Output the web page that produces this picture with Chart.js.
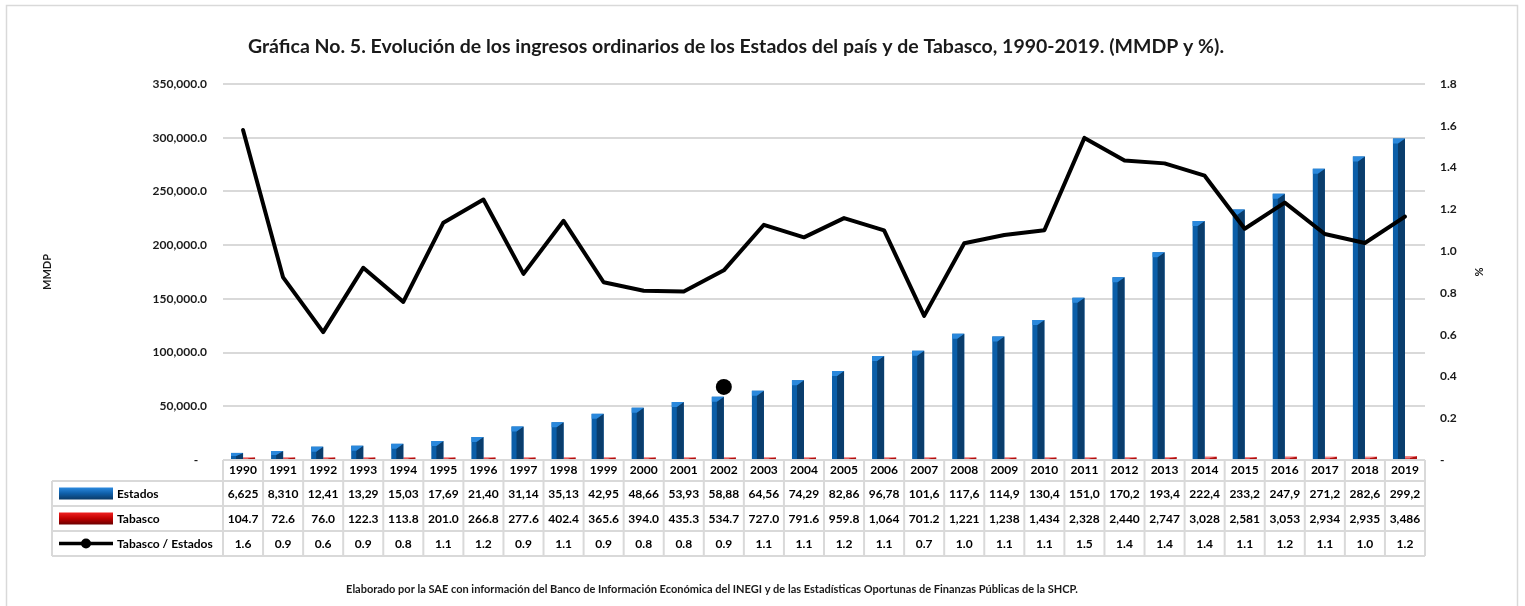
<!DOCTYPE html>
<html>
<head>
<meta charset="utf-8">
<script src="https://cdn.jsdelivr.net/npm/chart.js@4.4.1/dist/chart.umd.min.js"></script>
<style>
  body { margin: 0; background: #fff; }
  canvas { display: block; }
</style>
</head>
<body>
<canvas id="chart" width="1525" height="606"></canvas>
<script>
// -------- Datos --------
const YEARS = ["1990","1991","1992","1993","1994","1995","1996","1997","1998","1999",
  "2000","2001","2002","2003","2004","2005","2006","2007","2008","2009",
  "2010","2011","2012","2013","2014","2015","2016","2017","2018","2019"];

// Ingresos ordinarios de los Estados (MMDP)
const ESTADOS = [6625, 8310, 12410, 13290, 15030, 17690, 21400, 31140, 35130, 42950,
  48660, 53930, 58880, 64560, 74290, 82860, 96780, 101600, 117600, 114900,
  130400, 151000, 170200, 193400, 222400, 233200, 247900, 271200, 282600, 299200];

// Ingresos ordinarios de Tabasco (MMDP)
const TABASCO = [104.7, 72.6, 76.0, 122.3, 113.8, 201.0, 266.8, 277.6, 402.4, 365.6,
  394.0, 435.3, 534.7, 727.0, 791.6, 959.8, 1064, 701.2, 1221, 1238,
  1434, 2328, 2440, 2747, 3028, 2581, 3053, 2934, 2935, 3486];

// Tabasco / Estados (%)
const RATIO = [1.58, 0.874, 0.612, 0.92, 0.757, 1.136, 1.247, 0.891, 1.145, 0.851,
  0.81, 0.807, 0.908, 1.126, 1.066, 1.158, 1.099, 0.69, 1.038, 1.077,
  1.10, 1.542, 1.434, 1.42, 1.361, 1.107, 1.232, 1.082, 1.039, 1.165];

// punto suelto que aparece en la gráfica original
const STRAY_POINT = [{ x: "2002", y: 0.35 }];

const LEFT_MAX = 350000, LEFT_STEP = 50000;
const RIGHT_MAX = 1.8, RIGHT_STEP = 0.2;

const TITLE = "Gráfica No. 5. Evolución de los ingresos ordinarios de los Estados del país y de Tabasco, 1990-2019. (MMDP y %).";
const FOOTER = "Elaborado por la SAE con información del Banco de Información Económica del INEGI y de las Estadísticas Oportunas de Finanzas Públicas de la SHCP.";

const FONT = "Lato, 'Open Sans', sans-serif";
const TXT = "#1a1a1a";
const GRID = "#d9d9d9";

// -------- Formatos --------
function fmtEstados(v) { return v.toLocaleString("en-US").slice(0, 5); }
function fmtTabasco(v) { return v >= 1000 ? Math.round(v).toLocaleString("en-US") : v.toFixed(1); }
function fmtRatio(v) { return v.toFixed(1); }

// -------- Plugins --------
// efecto 3D de las barras
const barShade = {
  id: "barShade",
  afterDatasetDraw(chart, args) {
    const ds = chart.data.datasets[args.index];
    if (!ds.shade) return;
    const ctx = chart.ctx;
    ctx.save();
    args.meta.data.forEach(bar => {
      const { x, y, base, width } = bar.getProps(["x", "y", "base", "width"], true);
      const l = x - width / 2, r = x + width / 2, h = base - y;
      const cap = Math.min(5, h * 0.5);
      const mid = l + width * 0.42;
      ctx.fillStyle = ds.shade.dark;
      ctx.beginPath();
      ctx.moveTo(mid, y + cap);
      ctx.lineTo(r, y);
      ctx.lineTo(r, base);
      ctx.lineTo(mid, base);
      ctx.closePath();
      ctx.fill();
      ctx.fillStyle = ds.shade.light;
      ctx.beginPath();
      ctx.moveTo(l, y);
      ctx.lineTo(r, y);
      ctx.lineTo(mid, y + cap);
      ctx.lineTo(l, y + cap);
      ctx.closePath();
      ctx.fill();
    });
    ctx.restore();
  }
};

// marco, título, tabla de datos y nota
const decor = {
  id: "decor",
  beforeDraw(chart) {
    const ctx = chart.ctx;
    ctx.save();
    ctx.strokeStyle = GRID;
    ctx.lineWidth = 1.5;
    ctx.strokeRect(6.5, 5.5, 1511, 640);
    ctx.restore();
  },
  afterDraw(chart) {
    const { ctx, chartArea } = chart;
    const xs = chart.scales.x;
    const half = (xs.getPixelForValue(1) - xs.getPixelForValue(0)) / 2;
    const top = chartArea.bottom;
    const rows = [top, top + 21, top + 46, top + 71, top + 96];
    const legL = 52;

    ctx.save();
    // título
    ctx.fillStyle = TXT;
    ctx.font = "bold 19.5px " + FONT;
    ctx.textAlign = "center";
    ctx.textBaseline = "middle";
    ctx.fillText(TITLE, 736, 47);

    // nota
    ctx.font = "bold 11px " + FONT;
    ctx.fillText(FOOTER, 712, 589);

    // rejilla de la tabla
    ctx.strokeStyle = GRID;
    ctx.lineWidth = 2;
    ctx.beginPath();
    ctx.moveTo(chartArea.left, rows[0]); ctx.lineTo(chartArea.right, rows[0]);
    for (let k = 1; k < rows.length; k++) {
      ctx.moveTo(legL, rows[k]); ctx.lineTo(chartArea.right, rows[k]);
    }
    ctx.moveTo(legL, rows[1]); ctx.lineTo(legL, rows[4]);
    YEARS.forEach((_, i) => {
      const cx = xs.getPixelForValue(i);
      ctx.moveTo(cx - half, rows[0]); ctx.lineTo(cx - half, rows[4]);
    });
    ctx.moveTo(chartArea.right, rows[0]); ctx.lineTo(chartArea.right, rows[4]);
    ctx.stroke();

    // valores
    ctx.fillStyle = "#000";
    ctx.font = "bold 12px " + FONT;
    ctx.textAlign = "center";
    const series = [ESTADOS.map(fmtEstados), TABASCO.map(fmtTabasco), RATIO.map(fmtRatio)];
    series.forEach((vals, k) => {
      const cy = (rows[k + 1] + rows[k + 2]) / 2;
      vals.forEach((t, i) => ctx.fillText(t, xs.getPixelForValue(i), cy + 1));
    });

    // leyenda de la tabla
    const sx = 59, sw = 54;
    const labels = ["Estados", "Tabasco", "Tabasco / Estados"];
    labels.forEach((lab, k) => {
      const cy = (rows[k + 1] + rows[k + 2]) / 2;
      if (k < 2) {
        const g = ctx.createLinearGradient(0, cy - 6, 0, cy + 6);
        if (k === 0) { g.addColorStop(0, "#2b8ae0"); g.addColorStop(0.5, "#0f5fa8"); g.addColorStop(1, "#0b3a66"); }
        else { g.addColorStop(0, "#f02020"); g.addColorStop(0.5, "#c00000"); g.addColorStop(1, "#6a0000"); }
        ctx.fillStyle = g;
        ctx.fillRect(sx, cy - 6, sw, 12);
      } else {
        ctx.strokeStyle = "#000";
        ctx.lineWidth = 3.5;
        ctx.beginPath(); ctx.moveTo(sx, cy); ctx.lineTo(sx + sw, cy); ctx.stroke();
        ctx.fillStyle = "#000";
        ctx.beginPath(); ctx.arc(sx + sw / 2, cy, 5, 0, Math.PI * 2); ctx.fill();
      }
      ctx.fillStyle = "#000";
      ctx.textAlign = "left";
      ctx.fillText(lab, sx + sw + 4, cy + 1);
    });
    ctx.restore();
  }
};

// -------- Gráfica --------
new Chart(document.getElementById("chart"), {
  type: "bar",
  data: {
    labels: YEARS,
    datasets: [
      {
        type: "line", label: "Tabasco / Estados", data: RATIO, yAxisID: "y1", order: 0,
        borderColor: "#000", borderWidth: 4, pointRadius: 0, tension: 0,
        borderJoinStyle: "round", borderCapStyle: "round"
      },
      {
        type: "line", label: "punto", data: STRAY_POINT, yAxisID: "y1", order: 0,
        showLine: false, pointRadius: 8, pointBackgroundColor: "#000", pointBorderWidth: 0
      },
      {
        label: "Estados", data: ESTADOS, yAxisID: "y", order: 1,
        backgroundColor: "#0b5ea8", shade: { dark: "#0a3d6c", light: "#2a88dc" },
        barPercentage: 1, categoryPercentage: 0.6, minBarLength: 3
      },
      {
        label: "Tabasco", data: TABASCO, yAxisID: "y", order: 1,
        backgroundColor: "#e04848", shade: { dark: "#b01010", light: "#f08a8a" },
        barPercentage: 1, categoryPercentage: 0.6, minBarLength: 2.5
      }
    ]
  },
  options: {
    responsive: false,
    animation: false,
    layout: { padding: { top: 84, left: 0, right: 0, bottom: 0 } },
    plugins: { legend: { display: false }, title: { display: false }, tooltip: { enabled: false } },
    scales: {
      x: {
        grid: { display: false, drawTicks: false },
        border: { display: false },
        ticks: { color: "#000", font: { family: FONT, size: 12, weight: "bold" }, padding: 3, maxRotation: 0, autoSkip: false },
        afterFit(s) { s.height = 146; }
      },
      y: {
        position: "left", min: 0, max: LEFT_MAX,
        grid: { color: GRID, lineWidth: 2, drawTicks: false },
        border: { display: false },
        ticks: {
          stepSize: LEFT_STEP, padding: 16, color: TXT,
          font: { family: FONT, size: 12, weight: "bold" },
          callback: v => v === 0 ? "-   " : v.toLocaleString("en-US") + ".0"
        },
        title: { display: true, text: "MMDP", color: TXT, font: { family: FONT, size: 11, weight: "bold" }, padding: { top: 41 } },
        afterFit(s) { s.width = 223; }
      },
      y1: {
        position: "right", min: 0, max: RIGHT_MAX,
        grid: { display: false, drawTicks: false },
        border: { display: false },
        ticks: {
          stepSize: RIGHT_STEP, padding: 15, color: TXT,
          font: { family: FONT, size: 12, weight: "bold" },
          callback: v => v === 0 ? "-" : v.toFixed(1)
        },
        title: { display: true, text: "%", color: TXT, font: { family: FONT, size: 11, weight: "bold" }, padding: { top: 40 } },
        afterFit(s) { s.width = 100; }
      }
    }
  },
  plugins: [barShade, decor]
});
</script>
</body>
</html>
